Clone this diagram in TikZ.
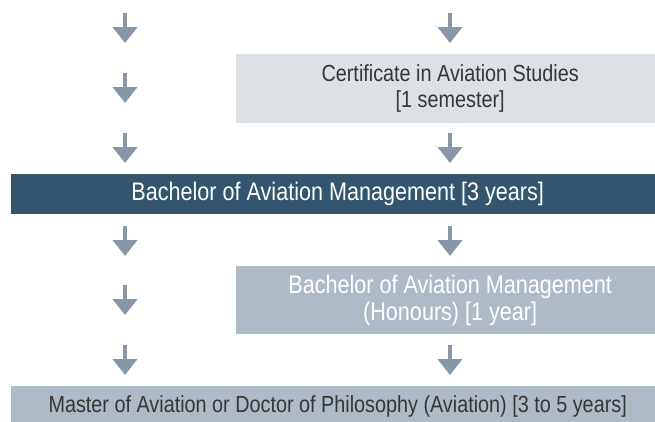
\documentclass[tikz,border=0pt]{standalone}
\usepackage{fontspec}
\setmainfont{Liberation Sans}[FakeStretch=0.85]
\usetikzlibrary{arrows.meta}

\definecolor{arrowgray}{HTML}{8797A8}
\definecolor{paleblock}{HTML}{DDE0E5}
\definecolor{darkblock}{HTML}{33566E}
\definecolor{midblock}{HTML}{AEBAC6}
\definecolor{textgray}{HTML}{363636}

\begin{document}
\begin{tikzpicture}[
    x=1pt, y=-1pt,
    block/.style={rectangle, anchor=north west, inner sep=0pt, align=center},
    downarrow/.style={draw=arrowgray, line width=4.5pt, -{Triangle[width=24pt, length=16pt]}}
]
\useasboundingbox (0,0) rectangle (655,421);
\clip (0,0) rectangle (655,421);

% Certificate
\node[block, fill=paleblock, text=textgray, minimum width=428pt, minimum height=69pt, font=\fontsize{23.3}{26}\selectfont] (cert) at (236,54) {Certificate in Aviation Studies\\{[1 semester]}};

% Bachelor
\node[block, fill=darkblock, text=white, minimum width=653pt, minimum height=40pt, font=\fontsize{25.4}{28}\selectfont] (bachelor) at (11,174) {Bachelor of Aviation Management [3 years]};

% Honours
\node[block, fill=midblock, text=white, minimum width=428pt, minimum height=68pt, font=\fontsize{25.4}{27}\selectfont] (honours) at (236,266) {Bachelor of Aviation Management\\(Honours) [1 year]};

% Postgraduate
\node[block, fill=midblock, text=textgray, minimum width=653pt, minimum height=40pt, font=\fontsize{23.3}{26}\selectfont] (research) at (11,386) {Master of Aviation or Doctor of Philosophy (Aviation) [3 to 5 years]};

% Arrows
\foreach \n/\x/\y in {1/125/13, 2/450/13, 3/125/73, 4/125/133, 5/450/133, 6/125/226, 7/450/226, 8/125/285, 9/125/345, 10/450/345} {
    \coordinate (from\n) at (\x,\y);
    \coordinate (to\n) at (\x,\y+30);
    \draw[downarrow] (from\n) -- (to\n);
}

\end{tikzpicture}
\end{document}
